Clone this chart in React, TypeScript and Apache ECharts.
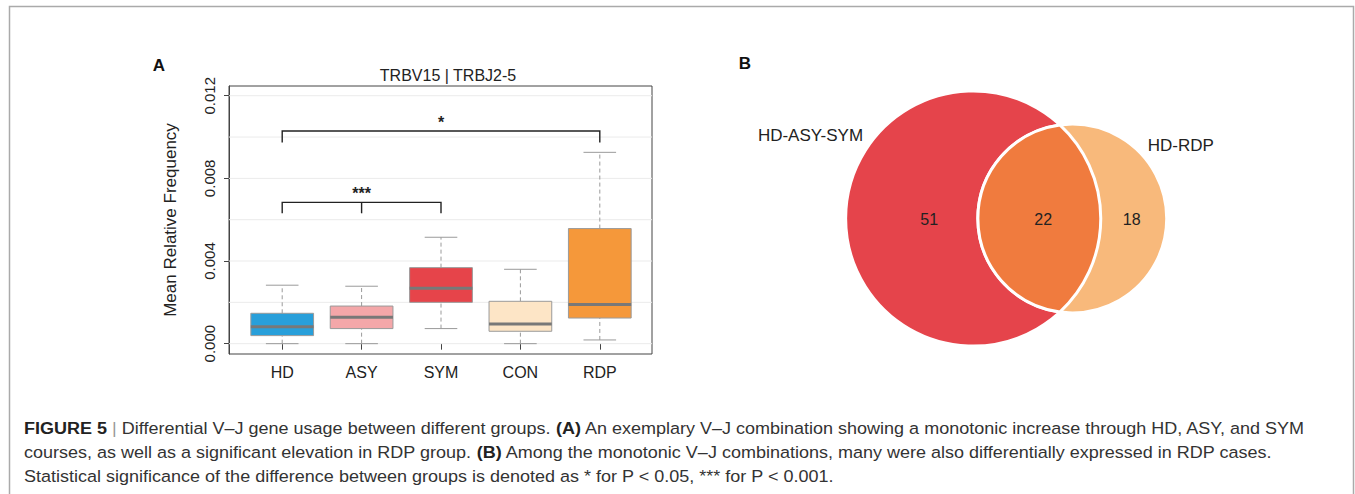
import React, { useEffect, useRef } from 'react';
import * as echarts from 'echarts';

// ---------- Data ----------
const CATEGORIES = ['HD', 'ASY', 'SYM', 'CON', 'RDP'];
const BOX_MIN = [0.0, 0.0, 0.00073, 0.0, 0.00018];
const BOX_Q1 = [0.00039, 0.00073, 0.002, 0.0006, 0.00124];
const BOX_MEDIAN = [0.00082, 0.00128, 0.00268, 0.00095, 0.00189];
const BOX_Q3 = [0.00147, 0.00182, 0.00368, 0.00205, 0.00557];
const BOX_MAX = [0.00283, 0.00278, 0.00515, 0.0036, 0.00926];
const BOX_COLORS = ['#289fda', '#f4a7a9', '#e6444a', '#fde5c6', '#f5983a'];

const Y_TICKS = [0, 0.004, 0.008, 0.012];
const Y_GRID = [0, 0.002, 0.004, 0.006, 0.008, 0.01, 0.012];
const Y_MIN = -0.0005;
const Y_MAX = 0.01247;

const SIG_FROM = [0, 0];
const SIG_TO = [2, 4];
const SIG_MID_TICK = [1, -1];
const SIG_LINE = [0.00684, 0.01029];
const SIG_DROP = [0.00631, 0.00973];
const SIG_LABEL = ['***', '*'];

const VENN_SETS = ['HD-ASY-SYM', 'HD-RDP'];
const VENN_ONLY_A = 51;
const VENN_BOTH = 22;
const VENN_ONLY_B = 18;

const CAPTION_LINES = [
  '{b|FIGURE 5} {s||} Differential V\u2013J gene usage between different groups. {b|(A)} An exemplary V\u2013J combination showing a monotonic increase through HD, ASY, and SYM',
  'courses, as well as a significant elevation in RDP group. {b|(B)} Among the monotonic V\u2013J combinations, many were also differentially expressed in RDP cases.',
  'Statistical significance of the difference between groups is denoted as * for P < 0.05, *** for P < 0.001.',
];

// ---------- Layout / style ----------
const FONT = '"Liberation Sans", Arial, Helvetica, sans-serif';
const VENN_CX = 973.2;
const VENN_CY = 218.5;
const VENN_SCALE = 14.93; // px per sqrt(count)
const VENN_DIST = 99.1;

export default function App() {
  const ref = useRef<HTMLDivElement>(null);

  useEffect(() => {
    if (!ref.current) return;
    const chart = echarts.init(ref.current, undefined, { renderer: 'svg' });

    const boxData = CATEGORIES.map((_, i) => [i, BOX_MIN[i], BOX_Q1[i], BOX_MEDIAN[i], BOX_Q3[i], BOX_MAX[i]]);
    const sigData = SIG_FROM.map((f, i) => [f, SIG_TO[i], SIG_MID_TICK[i], SIG_LINE[i], SIG_DROP[i]]);

    const r1 = VENN_SCALE * Math.sqrt(VENN_ONLY_A + VENN_BOTH);
    const r2 = VENN_SCALE * Math.sqrt(VENN_ONLY_B + VENN_BOTH);
    const c1x = VENN_CX;
    const c2x = VENN_CX + VENN_DIST;
    const cy = VENN_CY;
    const d = VENN_DIST;
    const a = (d * d + r1 * r1 - r2 * r2) / (2 * d);
    const h = Math.sqrt(Math.max(0, r1 * r1 - a * a));
    const px = c1x + a;
    const lensPath =
      `M ${px} ${cy - h} A ${r1} ${r1} 0 ${a < 0 ? 1 : 0} 1 ${px} ${cy + h} ` +
      `A ${r2} ${r2} 0 ${a - d > 0 ? 1 : 0} 1 ${px} ${cy - h} Z`;

    const option: any = {
      animation: false,
      backgroundColor: '#ffffff',
      textStyle: { fontFamily: FONT },
      grid: [
        { left: 229, top: 86, width: 423, height: 268, show: true, borderColor: '#444', borderWidth: 1, backgroundColor: 'transparent' },
        { left: 242.5, top: 86, width: 397, height: 268 },
      ],
      xAxis: [
        { gridIndex: 0, type: 'value', min: 0, max: 1, show: false },
        {
          gridIndex: 1,
          type: 'category',
          data: CATEGORIES,
          boundaryGap: true,
          axisLine: { show: false },
          axisTick: { show: true, alignWithLabel: true, length: 6, lineStyle: { color: '#444' } },
          axisLabel: { fontSize: 16, color: '#222', margin: 10, fontFamily: FONT },
          splitLine: { show: false },
        },
      ],
      yAxis: [
        {
          gridIndex: 0,
          type: 'value',
          min: Y_MIN,
          max: Y_MAX,
          axisLine: { show: true, lineStyle: { color: '#444' } },
          axisTick: { show: true, length: 5, customValues: Y_TICKS, lineStyle: { color: '#444' } },
          axisLabel: {
            customValues: Y_TICKS,
            rotate: 90,
            fontSize: 15,
            color: '#222',
            margin: 12,
            fontFamily: FONT,
            formatter: (v: number) => v.toFixed(3),
          },
          splitLine: { show: false },
          name: 'Mean Relative Frequency',
          nameLocation: 'middle',
          nameGap: 50,
          nameTextStyle: { fontSize: 17, color: '#222', fontFamily: FONT },
        },
        { gridIndex: 1, type: 'value', min: Y_MIN, max: Y_MAX, show: false },
      ],
      series: [
        {
          type: 'custom',
          xAxisIndex: 0,
          yAxisIndex: 0,
          z: 1,
          silent: true,
          data: Y_GRID.map((v) => [0, v]),
          encode: { x: 0, y: 1 },
          renderItem: (params: any, api: any) => {
            const y = api.coord([0, api.value(1)])[1];
            const cs = params.coordSys;
            return {
              type: 'line',
              shape: { x1: cs.x, y1: y, x2: cs.x + cs.width, y2: y },
              style: { stroke: '#ebebeb', lineWidth: 1 },
            };
          },
        },
        {
          type: 'custom',
          xAxisIndex: 1,
          yAxisIndex: 1,
          z: 3,
          data: boxData,
          encode: { x: 0, y: [1, 2, 3, 4, 5] },
          renderItem: (params: any, api: any) => {
            const i = api.value(0);
            const x = api.coord([i, 0])[0];
            const band = api.size([1, 0])[0];
            const bw = band * 0.79;
            const cw = bw * 0.52;
            const yMin = api.coord([i, api.value(1)])[1];
            const yQ1 = api.coord([i, api.value(2)])[1];
            const yMed = api.coord([i, api.value(3)])[1];
            const yQ3 = api.coord([i, api.value(4)])[1];
            const yMax = api.coord([i, api.value(5)])[1];
            const dash = { stroke: '#9a9a9a', lineWidth: 1, lineDash: [4, 3] };
            const solid = { stroke: '#9a9a9a', lineWidth: 1 };
            return {
              type: 'group',
              children: [
                { type: 'line', shape: { x1: x, y1: yQ3, x2: x, y2: yMax }, style: dash },
                { type: 'line', shape: { x1: x, y1: yMin, x2: x, y2: yQ1 }, style: dash },
                { type: 'line', shape: { x1: x - cw / 2, y1: yMax, x2: x + cw / 2, y2: yMax }, style: solid },
                { type: 'line', shape: { x1: x - cw / 2, y1: yMin, x2: x + cw / 2, y2: yMin }, style: solid },
                {
                  type: 'rect',
                  shape: { x: x - bw / 2, y: yQ3, width: bw, height: yQ1 - yQ3 },
                  style: { fill: BOX_COLORS[i], stroke: '#9a9a9a', lineWidth: 1 },
                },
                {
                  type: 'line',
                  shape: { x1: x - bw / 2, y1: yMed, x2: x + bw / 2, y2: yMed },
                  style: { stroke: '#787878', lineWidth: 3 },
                },
              ],
            };
          },
        },
        {
          type: 'custom',
          xAxisIndex: 1,
          yAxisIndex: 1,
          z: 4,
          data: sigData,
          encode: { x: [0, 1], y: [3, 4] },
          renderItem: (params: any, api: any) => {
            const from = api.value(0);
            const to = api.value(1);
            const mid = api.value(2);
            const yLine = api.coord([from, api.value(3)])[1];
            const yDrop = api.coord([from, api.value(4)])[1];
            const xf = api.coord([from, 0])[0];
            const xt = api.coord([to, 0])[0];
            const st = { stroke: '#222', lineWidth: 1.4, fill: null };
            const children: any[] = [
              { type: 'polyline', shape: { points: [[xf, yDrop], [xf, yLine], [xt, yLine], [xt, yDrop]] }, style: st },
            ];
            if (mid >= 0) {
              const xm = api.coord([mid, 0])[0];
              children.push({ type: 'line', shape: { x1: xm, y1: yLine, x2: xm, y2: yDrop }, style: st });
            }
            children.push({
              type: 'text',
              style: {
                text: SIG_LABEL[params.dataIndex],
                x: (xf + xt) / 2,
                y: yLine - 1,
                align: 'center',
                verticalAlign: 'bottom',
                fontSize: 16,
                fontWeight: 'bold',
                fontFamily: FONT,
                fill: '#222',
              },
            });
            return { type: 'group', children };
          },
        },
        {
          type: 'custom',
          coordinateSystem: 'none',
          z: 2,
          data: [[0]],
          renderItem: () => {
            const labelFont = { fontSize: 16, fontFamily: FONT, fill: '#222' };
            return {
              type: 'group',
              children: [
                { type: 'circle', shape: { cx: c1x, cy, r: r1 }, style: { fill: '#e5444b', stroke: '#fff', lineWidth: 3 } },
                { type: 'circle', shape: { cx: c2x, cy, r: r2 }, style: { fill: '#f8b97b', stroke: '#fff', lineWidth: 3 } },
                { type: 'path', shape: { pathData: lensPath }, style: { fill: '#f07b3e', stroke: '#fff', lineWidth: 3 } },
                { type: 'text', style: { text: String(VENN_ONLY_A), x: c1x - 44, y: cy + 1, align: 'center', verticalAlign: 'middle', ...labelFont } },
                { type: 'text', style: { text: String(VENN_BOTH), x: c1x + 70, y: cy + 1, align: 'center', verticalAlign: 'middle', ...labelFont } },
                { type: 'text', style: { text: String(VENN_ONLY_B), x: c2x + 59.4, y: cy + 1, align: 'center', verticalAlign: 'middle', ...labelFont } },
                { type: 'text', style: { text: VENN_SETS[0], x: 810.5, y: 135, align: 'center', verticalAlign: 'middle', fontSize: 17, fontFamily: FONT, fill: '#222' } },
                { type: 'text', style: { text: VENN_SETS[1], x: 1147.7, y: 145.7, align: 'left', verticalAlign: 'middle', fontSize: 17, fontFamily: FONT, fill: '#222' } },
              ],
            };
          },
        },
      ],
      graphic: [
        {
          type: 'polyline',
          silent: true,
          shape: { points: [[9.5, 494], [9.5, 6.5], [1353.5, 6.5], [1353.5, 494]] },
          style: { stroke: '#aaaaaa', lineWidth: 1.5, fill: null },
        },
        { type: 'text', x: 159, y: 65, style: { text: 'A', align: 'center', verticalAlign: 'middle', fontSize: 17, fontWeight: 'bold', fontFamily: FONT, fill: '#111' } },
        { type: 'text', x: 745, y: 63, style: { text: 'B', align: 'center', verticalAlign: 'middle', fontSize: 17, fontWeight: 'bold', fontFamily: FONT, fill: '#111' } },
        { type: 'text', x: 448, y: 75, style: { text: 'TRBV15 | TRBJ2-5', align: 'center', verticalAlign: 'middle', fontSize: 16, fontFamily: FONT, fill: '#222' } },
        ...CAPTION_LINES.map((line, k) => ({
          type: 'text',
          x: 24,
          y: 428.5 + k * 24,
          scaleX: 1.06,
          style: {
            text: line,
            align: 'left',
            verticalAlign: 'middle',
            fontSize: 17,
            fontFamily: FONT,
            fill: '#333',
            rich: {
              b: { fontSize: 17, fontFamily: FONT, fontWeight: 'bold', fill: '#222' },
              s: { fontSize: 17, fontFamily: FONT, fill: '#999' },
            },
          },
        })),
      ],
    };

    chart.setOption(option);
    return () => chart.dispose();
  }, []);

  return (
    <div
      ref={ref}
      style={{ position: 'fixed', left: 0, top: 0, width: 1355, height: 494, background: '#fff' }}
    />
  );
}
